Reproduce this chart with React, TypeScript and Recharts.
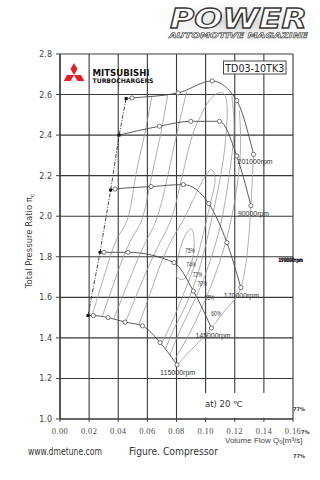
import React from 'react';
import {
  ComposedChart,
  Line,
  Scatter,
  XAxis,
  YAxis,
  CartesianGrid,
  ReferenceArea,
  LabelList,
} from 'recharts';

// ---------- axis ticks ----------
const xTicks = [0, 0.02, 0.04, 0.06, 0.08, 0.1, 0.12, 0.14, 0.16];
const yTicks = [1.0, 1.2, 1.4, 1.6, 1.8, 2.0, 2.2, 2.4, 2.6, 2.8];

// ---------- speed lines (flow m3/s, pressure ratio) ----------
const speed201 = [
  { x: 0.0454, y: 2.58 },
  { x: 0.0495, y: 2.583 },
  { x: 0.0811, y: 2.608 },
  { x: 0.1045, y: 2.667 },
  { x: 0.1214, y: 2.57 },
  { x: 0.1329, y: 2.305 },
];
const speed190 = [
  { x: 0.0406, y: 2.4 },
  { x: 0.0683, y: 2.444 },
  { x: 0.0898, y: 2.468 },
  { x: 0.1095, y: 2.468 },
  { x: 0.1214, y: 2.297 },
  { x: 0.1311, y: 2.052 },
];
const speed170 = [
  { x: 0.0348, y: 2.129 },
  { x: 0.0378, y: 2.134 },
  { x: 0.0625, y: 2.146 },
  { x: 0.0847, y: 2.156 },
  { x: 0.1022, y: 2.062 },
  { x: 0.1146, y: 1.87 },
  { x: 0.1242, y: 1.648 },
];
const speed145 = [
  { x: 0.0275, y: 1.822 },
  { x: 0.0302, y: 1.822 },
  { x: 0.0467, y: 1.822 },
  { x: 0.0783, y: 1.771 },
  { x: 0.0916, y: 1.631 },
  { x: 0.104, y: 1.449 },
];
const speed115 = [
  { x: 0.0192, y: 1.51 },
  { x: 0.0229, y: 1.51 },
  { x: 0.033, y: 1.5 },
  { x: 0.0447, y: 1.478 },
  { x: 0.0566, y: 1.459 },
  { x: 0.0687, y: 1.377 },
  { x: 0.0804, y: 1.267 },
];

const speedLabels = ['201000rpm', '90000rpm', '170000rpm', '145000rpm', '115000rpm'];

// surge points are the first point of every speed line
const surgeLine = [speed115[0], speed145[0], speed170[0], speed190[0], speed201[0]];

// ---------- efficiency contours ----------
const eff75 = [
  { x: 0.08, y: 1.7 },
  { x: 0.0812, y: 1.8 },
  { x: 0.085, y: 1.89 },
  { x: 0.089, y: 1.935 },
  { x: 0.0915, y: 1.92 },
  { x: 0.092, y: 1.84 },
  { x: 0.0895, y: 1.75 },
  { x: 0.085, y: 1.69 },
  { x: 0.08, y: 1.7 },
];
const eff74 = [
  { x: 0.054, y: 1.463 },
  { x: 0.062, y: 1.62 },
  { x: 0.07, y: 1.78 },
  { x: 0.078, y: 1.9 },
  { x: 0.086, y: 2.0 },
  { x: 0.096, y: 2.15 },
  { x: 0.101, y: 2.21 },
  { x: 0.104, y: 2.23 },
  { x: 0.1065, y: 2.18 },
  { x: 0.1035, y: 2.07 },
  { x: 0.099, y: 1.93 },
  { x: 0.093, y: 1.77 },
  { x: 0.085, y: 1.62 },
  { x: 0.077, y: 1.48 },
  { x: 0.0695, y: 1.37 },
];
const eff72 = [
  { x: 0.045, y: 1.478 },
  { x: 0.053, y: 1.62 },
  { x: 0.061, y: 1.755 },
  { x: 0.069, y: 1.875 },
  { x: 0.077, y: 2.0 },
  { x: 0.084, y: 2.2 },
  { x: 0.091, y: 2.4 },
  { x: 0.097, y: 2.5 },
  { x: 0.103, y: 2.575 },
  { x: 0.111, y: 2.61 },
  { x: 0.1145, y: 2.56 },
  { x: 0.1145, y: 2.45 },
  { x: 0.1125, y: 2.3 },
  { x: 0.109, y: 2.15 },
  { x: 0.104, y: 1.98 },
  { x: 0.098, y: 1.8 },
  { x: 0.092, y: 1.66 },
  { x: 0.085, y: 1.54 },
  { x: 0.078, y: 1.44 },
  { x: 0.0725, y: 1.345 },
];
const eff70Left = [
  { x: 0.037, y: 1.495 },
  { x: 0.045, y: 1.64 },
  { x: 0.053, y: 1.78 },
  { x: 0.06, y: 1.89 },
  { x: 0.067, y: 2.0 },
  { x: 0.074, y: 2.2 },
  { x: 0.08, y: 2.4 },
  { x: 0.087, y: 2.615 },
];
const eff70Right = [
  { x: 0.118, y: 2.595 },
  { x: 0.1195, y: 2.45 },
  { x: 0.118, y: 2.3 },
  { x: 0.1145, y: 2.12 },
  { x: 0.11, y: 1.95 },
  { x: 0.104, y: 1.8 },
  { x: 0.0975, y: 1.67 },
  { x: 0.09, y: 1.55 },
  { x: 0.082, y: 1.43 },
  { x: 0.0755, y: 1.315 },
];
const eff65Left = [
  { x: 0.029, y: 1.505 },
  { x: 0.036, y: 1.65 },
  { x: 0.043, y: 1.79 },
  { x: 0.05, y: 1.9 },
  { x: 0.057, y: 2.0 },
  { x: 0.063, y: 2.2 },
  { x: 0.069, y: 2.4 },
  { x: 0.074, y: 2.6 },
];
const eff65Right = [
  { x: 0.1232, y: 2.52 },
  { x: 0.124, y: 2.35 },
  { x: 0.122, y: 2.17 },
  { x: 0.118, y: 2.0 },
  { x: 0.1125, y: 1.84 },
  { x: 0.1065, y: 1.71 },
  { x: 0.1005, y: 1.6 },
  { x: 0.093, y: 1.48 },
  { x: 0.085, y: 1.37 },
  { x: 0.0785, y: 1.29 },
];
const eff60Left = [
  { x: 0.022, y: 1.51 },
  { x: 0.028, y: 1.65 },
  { x: 0.034, y: 1.79 },
  { x: 0.04, y: 1.9 },
  { x: 0.047, y: 2.0 },
  { x: 0.052, y: 2.2 },
  { x: 0.058, y: 2.4 },
  { x: 0.063, y: 2.59 },
];
const eff60Right = [
  { x: 0.0804, y: 1.267 },
  { x: 0.092, y: 1.355 },
  { x: 0.104, y: 1.449 },
  { x: 0.115, y: 1.55 },
  { x: 0.1242, y: 1.648 },
  { x: 0.129, y: 1.85 },
  { x: 0.1311, y: 2.052 },
  { x: 0.1329, y: 2.305 },
];

const effLabels = [
  { x: 0.0893, y: 1.83, t: '75%' },
  { x: 0.09, y: 1.763, t: '74%' },
  { x: 0.0944, y: 1.715, t: '72%' },
  { x: 0.0976, y: 1.669, t: '70%' },
  { x: 0.1027, y: 1.598, t: '65%' },
  { x: 0.1072, y: 1.519, t: '60%' },
];

// ---------- non-data config ----------
const speedSeries = [
  { key: 's201', data: speed201, label: speedLabels[0], dx: -16, dy: 10 },
  { key: 's190', data: speed190, label: speedLabels[1], dx: -13, dy: 10 },
  { key: 's170', data: speed170, label: speedLabels[2], dx: -17, dy: 10 },
  { key: 's145', data: speed145, label: speedLabels[3], dx: -16, dy: 10 },
  { key: 's115', data: speed115, label: speedLabels[4], dx: -17, dy: 10 },
];

const effSeries = [eff75, eff74, eff72, eff70Left, eff70Right, eff65Left, eff65Right, eff60Left, eff60Right];

const renderSpeedDot = (props: any) => {
  const { cx, cy, index, key } = props;
  if (cx == null || cy == null) return null;
  if (index === 0) {
    return <rect key={key ?? `d${index}`} x={cx - 1.5} y={cy - 1.5} width={3} height={3} fill="#111" />;
  }
  return <circle key={key ?? `d${index}`} cx={cx} cy={cy} r={2.1} fill="#fff" stroke="#555" strokeWidth={0.8} />;
};

const XTick = (props: any) => {
  const { x, y, payload } = props;
  return (
    <text x={x} y={y + 10} textAnchor="middle" fontSize={8.5} fontFamily="Liberation Serif" fill="#4a4a4a" letterSpacing={0.4}>
      {Number(payload.value).toFixed(2)}
    </text>
  );
};

const YTick = (props: any) => {
  const { x, y, payload } = props;
  return (
    <text x={x - 2} y={y + 3} textAnchor="end" fontSize={8} fontFamily="DejaVu Sans" fill="#444">
      {Number(payload.value).toFixed(1)}
    </text>
  );
};

const EffLabel = (props: any) => {
  const { cx, cy, payload } = props;
  return (
    <text x={cx} y={cy + 2.5} textAnchor="middle" fontSize={7} fontFamily="Liberation Sans" fill="#333" textLength={9.5} lengthAdjust="spacingAndGlyphs">
      {payload.t}
    </text>
  );
};

export default function App() {
  return (
    <div style={{ position: 'absolute', left: 0, top: 0, width: 320, height: 480, background: '#fff', overflow: 'hidden' }}>
      <ComposedChart width={320} height={480} margin={{ top: 54, right: 27, bottom: 31, left: 10 }}>
        <CartesianGrid stroke="#3a3a3a" strokeWidth={1.1} />
        <XAxis
          type="number"
          dataKey="x"
          domain={[0, 0.16]}
          ticks={xTicks}
          interval={0}
          allowDataOverflow
          tick={XTick}
          tickSize={3}
          tickLine={{ stroke: '#444' }}
          axisLine={{ stroke: '#333', strokeWidth: 1.2 }}
          height={30}
        />
        <YAxis
          type="number"
          domain={[1, 2.8]}
          ticks={yTicks}
          interval={0}
          allowDataOverflow
          tick={YTick}
          tickSize={4}
          tickLine={{ stroke: '#444' }}
          axisLine={{ stroke: '#333', strokeWidth: 1.2 }}
          width={50}
        />
        <ReferenceArea x1={0.0985} x2={0.1465} y1={1.006} y2={1.128} fill="#fff" fillOpacity={1} stroke="none" ifOverflow="visible" />
        {effSeries.map((d, i) => (
          <Line
            key={`eff${i}`}
            data={d}
            dataKey="y"
            type="natural"
            stroke="#9a9a9a"
            strokeWidth={0.8}
            dot={false}
            activeDot={false}
            isAnimationActive={false}
          />
        ))}
        <Line
          data={surgeLine}
          dataKey="y"
          type="linear"
          stroke="#333"
          strokeWidth={0.9}
          strokeDasharray="4 1.5 1 1.5"
          dot={false}
          activeDot={false}
          isAnimationActive={false}
        />
        {speedSeries.map((s) => (
          <Line
            key={s.key}
            data={s.data}
            dataKey="y"
            type="monotone"
            stroke="#4a4a4a"
            strokeWidth={0.9}
            dot={renderSpeedDot}
            activeDot={false}
            isAnimationActive={false}
          >
            <LabelList
              dataKey="y"
              content={(p: any) =>
                p.index === s.data.length - 1 ? (
                  <text
                    x={Number(p.x) + s.dx}
                    y={Number(p.y) + s.dy}
                    fontSize={7}
                    fontFamily="Liberation Sans"
                    fill="#333"
                    textLength={s.label.length * 3.9}
                    lengthAdjust="spacingAndGlyphs"
                  >
                    {s.label}
                  </text>
                ) : null
              }
            />
          </Line>
        ))}
        <Scatter data={effLabels} dataKey="y" shape={EffLabel} isAnimationActive={false} />
      </ComposedChart>

      <svg width={320} height={480} style={{ position: 'absolute', left: 0, top: 0, pointerEvents: 'none' }}>
        <defs>
          <radialGradient id="logoBg" cx="0.5" cy="0.5" r="0.6">
            <stop offset="0" stopColor="#c8c8c8" stopOpacity={0.9} />
            <stop offset="1" stopColor="#ffffff" stopOpacity={0} />
          </radialGradient>
        </defs>
        {/* POWER logo */}
        <rect x={158} y={0} width={162} height={44} fill="url(#logoBg)" />
        <text x={170} y={27.5} fontSize={27} fontFamily="DejaVu Sans" fontWeight={900} fontStyle="italic" fill="#fff" stroke="#3a3a3a" strokeWidth={1.3} textLength={137} lengthAdjust="spacingAndGlyphs">
          POWER
        </text>
        <text x={169} y={37.5} fontSize={7.5} fontFamily="DejaVu Sans" fontWeight={700} fontStyle="italic" fill="#fff" stroke="#333" strokeWidth={0.5} textLength={139} lengthAdjust="spacingAndGlyphs">
          AUTOMOTIVE MAGAZINE
        </text>

        {/* Mitsubishi logo */}
        <polygon points="74,63 77.5,69 74,75 70.5,69" fill="#e3202a" />
        <polygon points="74,75 70.6,81 63.6,81 67,75" fill="#e3202a" />
        <polygon points="74,75 77.4,81 84.4,81 81,75" fill="#e3202a" />
        <text x={92.5} y={76} fontSize={8.5} fontFamily="DejaVu Sans" fontWeight={700} fill="#111" textLength={57} lengthAdjust="spacingAndGlyphs">
          MITSUBISHI
        </text>
        <text x={92.5} y={82.5} fontSize={6.3} fontFamily="DejaVu Sans" fontWeight={700} fill="#111" textLength={61} lengthAdjust="spacingAndGlyphs">
          TURBOCHARGERS
        </text>

        {/* model box */}
        <rect x={223.5} y={61} width={62.5} height={13} fill="#fff" stroke="#333" strokeWidth={0.9} />
        <text x={254.75} y={71.8} textAnchor="middle" fontSize={10.5} fontFamily="DejaVu Sans" fill="#222" textLength={59} lengthAdjust="spacingAndGlyphs">
          TD03-10TK3
        </text>

        {/* condition */}
        <text x={205} y={406.5} fontSize={8.5} fontFamily="DejaVu Sans" fill="#333">
          at) 20 ℃
        </text>

        {/* axis titles */}
        <text x={32} y={241} transform="rotate(-90 32 241)" textAnchor="middle" fontSize={8.5} fontFamily="DejaVu Sans" fill="#444">
          Total Pressure Ratio π<tspan fontSize={6} dy={2}>c</tspan>
        </text>
        <text x={225} y={443} fontSize={8} fontFamily="Liberation Sans" fill="#444">
          Volume Flow Q₀[m³/s]
        </text>

        {/* captions */}
        <text x={28} y={455} fontSize={10} fontFamily="DejaVu Sans" fill="#333" textLength={74} lengthAdjust="spacingAndGlyphs">
          www.dmetune.com
        </text>
        <text x={129} y={455} fontSize={11} fontFamily="DejaVu Sans" fill="#333" textLength={89} lengthAdjust="spacingAndGlyphs">
          Figure.  Compressor
        </text>

        {/* stray overlapping labels */}
        <text x={278} y={261.5} fontSize={6} fontFamily="DejaVu Sans" fontWeight={700} fill="#222" textLength={25} lengthAdjust="spacingAndGlyphs">
          190000rpm
        </text>
        <text x={279} y={261.5} fontSize={6} fontFamily="DejaVu Sans" fontWeight={700} fill="#222" textLength={24} lengthAdjust="spacingAndGlyphs">
          170000rpm
        </text>
        <text x={293} y={411} fontSize={5} fontFamily="DejaVu Sans" fontWeight={700} fill="#333">
          77%
        </text>
        <text x={301} y={434} fontSize={5} fontFamily="DejaVu Sans" fontWeight={700} fill="#333">
          7%
        </text>
        <text x={293} y={458} fontSize={5} fontFamily="DejaVu Sans" fontWeight={700} fill="#333">
          77%
        </text>
      </svg>
    </div>
  );
}
